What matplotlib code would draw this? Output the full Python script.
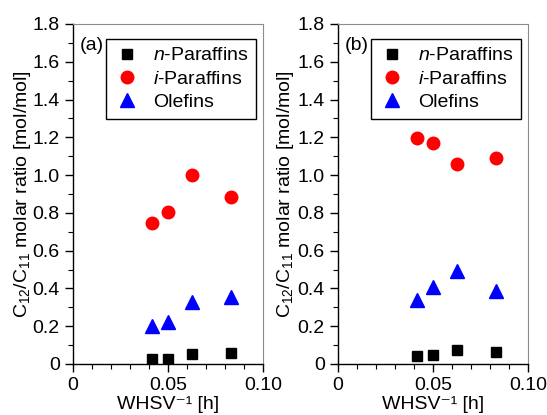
import matplotlib
matplotlib.use("Agg")
import matplotlib.pyplot as plt
from matplotlib.ticker import MultipleLocator, FuncFormatter

plt.rcParams['font.family'] = ['Liberation Sans', 'DejaVu Sans']
plt.rcParams['mathtext.fontset'] = 'custom'
plt.rcParams['mathtext.rm'] = 'Liberation Sans'
plt.rcParams['mathtext.it'] = 'Liberation Sans:italic'
plt.rcParams['font.size'] = 14

# inverse space velocity [h]
whsv_inv = [0.0417, 0.0500, 0.0625, 0.0833]

# C12/C11 molar ratios, panel (a)
n_par_a = [0.028, 0.026, 0.053, 0.057]
i_par_a = [0.745, 0.803, 1.000, 0.884]
olef_a = [0.200, 0.220, 0.327, 0.356]

# C12/C11 molar ratios, panel (b)
n_par_b = [0.044, 0.046, 0.074, 0.065]
i_par_b = [1.196, 1.168, 1.057, 1.092]
olef_b = [0.339, 0.406, 0.492, 0.386]

panels = [('(a)', n_par_a, i_par_a, olef_a, -0.268),
          ('(b)', n_par_b, i_par_b, olef_b, -0.275)]


def xfmt(v, pos):
    return '0' if abs(v) < 1e-9 else f'{v:.2f}'


def yfmt(v, pos):
    return '0' if abs(v) < 1e-9 else f'{v:.1f}'


fig = plt.figure(figsize=(5.47, 4.15), dpi=100)
lefts = [0.1335, 0.618]
width = 0.3473
bottom, height = 0.1229, 0.8193

for k, (tag, n_par, i_par, olef, ylab_x) in enumerate(panels):
    ax = fig.add_axes([lefts[k], bottom, width, height])
    ax.plot(whsv_inv, n_par, 's', color='black', markersize=7.5, label=r'$\mathit{n}$-Paraffins')
    ax.plot(whsv_inv, i_par, 'o', color='red', markersize=9, label=r'$\mathit{i}$-Paraffins')
    ax.plot(whsv_inv, olef, '^', color='blue', markersize=10.5, label='Olefins')

    ax.set_xlim(0, 0.10)
    ax.set_ylim(0, 1.8)
    ax.xaxis.set_major_locator(MultipleLocator(0.05))
    ax.xaxis.set_minor_locator(MultipleLocator(0.01))
    ax.yaxis.set_major_locator(MultipleLocator(0.2))
    ax.yaxis.set_minor_locator(MultipleLocator(0.1))
    ax.xaxis.set_major_formatter(FuncFormatter(xfmt))
    ax.yaxis.set_major_formatter(FuncFormatter(yfmt))
    ax.tick_params(which='major', direction='out', length=6, width=1, labelsize=14)
    ax.tick_params(which='minor', direction='out', length=3.5, width=0.8)

    for side in ['top', 'right']:
        ax.spines[side].set_color('#8c8c8c')
        ax.spines[side].set_linewidth(0.8)
    for side in ['left', 'bottom']:
        ax.spines[side].set_linewidth(1.0)

    ax.set_xlabel('WHSV\u207b\u00b9 [h]', fontsize=14)
    ax.xaxis.set_label_coords(0.5, -0.095)
    ax.set_ylabel(r'C$_{\mathregular{12}}$/C$_{\mathregular{11}}$ molar ratio [mol/mol]',
                  fontsize=14, va='center')
    ax.yaxis.set_label_coords(ylab_x, 0.5)
    ax.text(0.037, 0.962, tag, transform=ax.transAxes, ha='left', va='top', fontsize=14)

    leg = ax.legend(loc='upper right', bbox_to_anchor=(0.965, 0.956), fontsize=14,
                    frameon=True, fancybox=False, framealpha=1, edgecolor='black',
                    borderpad=0.4, labelspacing=0.3, handletextpad=0.7,
                    handlelength=1.3, borderaxespad=0)
    leg.get_frame().set_linewidth(1.0)

fig.savefig('out.png', dpi=100)
